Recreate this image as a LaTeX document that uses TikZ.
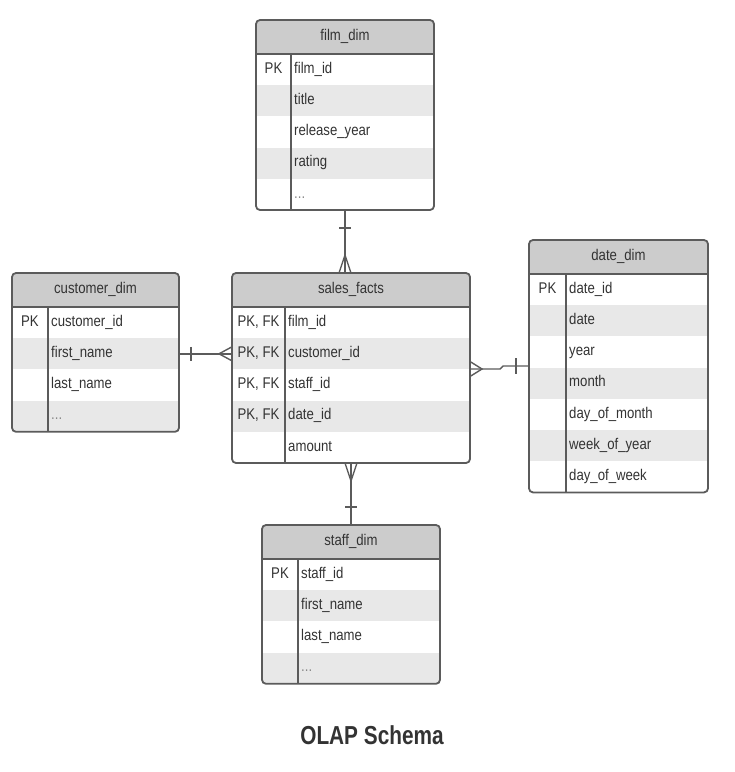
\documentclass[tikz,border=0pt]{standalone}
\usepackage{fontspec}
\setmainfont{Liberation Sans}[FakeStretch=0.85]
\newfontfamily\titlefont{Liberation Sans}[FakeStretch=0.8]
\usetikzlibrary{calc}
\definecolor{linec}{HTML}{5B5B5B}
\definecolor{headc}{HTML}{CCCCCC}
\definecolor{rowc}{HTML}{E8E8E8}
\definecolor{txtc}{HTML}{333333}
\definecolor{dotc}{HTML}{888888}
\tikzset{
  tbl/.style={draw=linec, line width=1.8pt, rounded corners=4pt, inner sep=0pt, outer sep=0pt},
  celltext/.style={font=\fontsize{15.5}{18}\selectfont, text=txtc, inner sep=0pt, text height=11pt, text depth=3.5pt},
  conn/.style={draw=linec, line width=1.4pt},
}
% #1 name, #2 left, #3 top, #4 right, #5 divider, #6 rows count, #7 title, #8 rows key/field/shade
\newcommand{\erdtable}[8]{%
  \pgfmathsetmacro{\hbot}{#3+34}%
  \pgfmathsetmacro{\tbot}{#3+34+#6*31.2}%
  \begin{scope}
    \clip[rounded corners=4pt] (#2,#3) rectangle (#4,\tbot);
    \fill[headc] (#2,#3) rectangle (#4,\hbot);
    \foreach \k/\f/\s [count=\i from 0] in {#8} {
      \pgfmathsetmacro{\ya}{\hbot+\i*31.2}
      \pgfmathsetmacro{\yb}{\ya+31.2}
      \pgfmathsetmacro{\ym}{\ya+15.6}
      \ifnum\s=1 \fill[rowc] (#2,\ya) rectangle (#4,\yb);\fi
      \node[celltext] (#1-k\i) at ({(#2+#5)/2},\ym) {\k};
      \node[celltext, anchor=west] (#1-f\i) at ({#5+3},\ym) {\f};
    }
  \end{scope}
  \draw[linec, line width=2pt] (#2,\hbot) -- (#4,\hbot);
  \draw[linec, line width=1.6pt] (#5,\hbot) -- (#5,\tbot);
  \node[tbl, minimum width={(#4-#2)*1pt}, minimum height={(\tbot-#3)*1pt}, anchor=north west] (#1) at (#2,#3) {};
  \node[celltext] (#1-title) at ({(#2+#4)/2},{#3+17}) {#7};
}
\begin{document}
\begin{tikzpicture}[x=1pt, y=-1pt]
  \fill[white] (0,0) rectangle (735,772);
  \useasboundingbox (0,0) rectangle (735,772);

  \erdtable{film}{256}{20}{434}{291}{5}{film\_dim}{%
    PK/film\_id/0, {}/title/1, {}/release\_year/0, {}/rating/1, {}/\textcolor{dotc}{...}/0}
  \erdtable{sales}{232}{273}{470}{285}{5}{sales\_facts}{%
    {PK, FK}/film\_id/0, {PK, FK}/customer\_id/1, {PK, FK}/staff\_id/0, {PK, FK}/date\_id/1, {}/amount/0}
  \erdtable{customer}{12}{273}{179}{48}{4}{customer\_dim}{%
    PK/customer\_id/0, {}/first\_name/1, {}/last\_name/0, {}/\textcolor{dotc}{...}/1}
  \erdtable{date}{529}{240}{708}{566}{7}{date\_dim}{%
    PK/date\_id/0, {}/date/1, {}/year/0, {}/month/1, {}/day\_of\_month/0, {}/week\_of\_year/1, {}/day\_of\_week/0}
  \erdtable{staff}{262}{525}{440}{298}{4}{staff\_dim}{%
    PK/staff\_id/0, {}/first\_name/1, {}/last\_name/0, {}/\textcolor{dotc}{...}/1}

  % film -> sales
  \coordinate (fsend) at (film.south |- sales.north);
  \draw[conn] (film.south) -- (fsend);
  \draw[conn] ($(film.south)+(-6,18)$) -- ++(12,0);
  \draw[conn] ($(fsend)+(-6,0)$) -- ++(6,-18) -- ++(6,18);

  % customer -> sales
  \coordinate (csa) at (customer.east |- customer-f1);
  \coordinate (csb) at (sales.west |- customer-f1);
  \draw[conn] (csa) -- (csb);
  \draw[conn] ($(csa)+(12,-7)$) -- ++(0,14);
  \draw[conn] ($(csb)+(0,-7)$) -- ++(-13,7) -- ++(13,7);

  % sales -> date
  \coordinate (sda) at ($(sales.east |- 0,369)$);
  \coordinate (sdb) at ($(date.west |- 0,366)$);
  \draw[conn] (sda) -- (500,369) -- (503,366) -- (sdb);
  \draw[conn] ($(sda)+(0,-7.5)$) -- ++(12,7.5) -- ++(-12,7.5);
  \draw[conn] ($(sdb)+(-13,-8)$) -- ++(0,16);

  % sales -> staff
  \draw[conn] (sales.south) -- (staff.north);
  \draw[conn] ($(sales.south)+(-6,0)$) -- ++(6,18) -- ++(6,-18);
  \draw[conn] ($(staff.north)+(-6,-18)$) -- ++(12,0);

  % title
  \node[font=\titlefont\bfseries\fontsize{26}{30}\selectfont, text=txtc, inner sep=0pt] (title) at (372,735.5) {OLAP Schema};
\end{tikzpicture}
\end{document}
